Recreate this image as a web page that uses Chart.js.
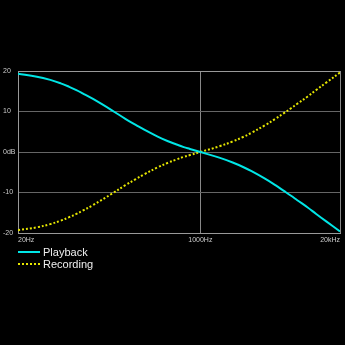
<!DOCTYPE html>
<html>
<head>
<meta charset="utf-8">
<script src="https://cdn.jsdelivr.net/npm/chart.js@4"></script>
<style>
html,body{margin:0;padding:0;background:#000;}
#wrap{width:345px;height:345px;}
</style>
</head>
<body>
<div id="wrap"><canvas id="c" width="345" height="345"></canvas></div>
<script>
const freqs = [20, 30, 40, 50, 60, 70, 80, 100, 150, 200, 250, 300, 400, 500, 600, 700, 800, 1000, 1500, 2000, 2500, 3000, 4000, 5000, 6000, 7000, 8000, 10000, 12000, 15000, 20000];
const playback = [19.3, 18.6, 17.8, 16.95, 16.1, 15.3, 14.5, 13.1, 10.3, 8.2, 6.7, 5.5, 3.8, 2.65, 1.85, 1.2, 0.75, 0, -1.4, -2.6, -3.7, -4.75, -6.6, -8.2, -9.6, -10.8, -11.9, -13.7, -15.3, -17.2, -19.6];
const recording = [-19.3, -18.6, -17.8, -16.95, -16.1, -15.3, -14.5, -13.1, -10.3, -8.2, -6.7, -5.5, -3.8, -2.65, -1.85, -1.2, -0.75, 0, 1.4, 2.6, 3.7, 4.75, 6.6, 8.2, 9.6, 10.8, 11.9, 13.7, 15.3, 17.2, 19.6];
const xTickValues = [20, 1000, 20000];
const xTickLabels = ["20Hz", "1000Hz", "20kHz"];
const yTickValues = [-20, -10, 0, 10, 20];
const yTickLabels = ["-20", "-10", "0dB", "10", "20"];
const seriesNames = ["Playback", "Recording"];

const legendPlugin = {
  id: 'customLegend',
  afterDraw(chart) {
    const ctx = chart.ctx;
    const a = chart.chartArea;
    ctx.save();
    chart.data.datasets.forEach((ds, i) => {
      const y = a.bottom + 19 + i * 12;
      ctx.beginPath();
      ctx.strokeStyle = ds.borderColor;
      ctx.lineWidth = ds.borderWidth;
      ctx.setLineDash(ds.borderDash || []);
      ctx.moveTo(a.left, y);
      ctx.lineTo(a.left + 22, y);
      ctx.stroke();
      ctx.setLineDash([]);
      ctx.fillStyle = '#eeeeee';
      ctx.font = '11px "Liberation Sans"';
      ctx.textBaseline = 'middle';
      ctx.textAlign = 'left';
      ctx.fillText(ds.label, a.left + 25, y + 0.5);
    });
    ctx.restore();
  }
};

new Chart(document.getElementById('c'), {
  type: 'line',
  data: {
    labels: freqs,
    datasets: [
      {
        label: seriesNames[0],
        data: freqs.map((f, i) => ({x: f, y: playback[i]})),
        borderColor: '#00e6e6',
        borderWidth: 2,
        pointRadius: 0,
        tension: 0.4,
        fill: false
      },
      {
        label: seriesNames[1],
        data: freqs.map((f, i) => ({x: f, y: recording[i]})),
        borderColor: '#e6e600',
        borderWidth: 2,
        borderDash: [2, 2],
        pointRadius: 0,
        tension: 0.4,
        fill: false
      }
    ]
  },
  options: {
    responsive: false,
    animation: false,
    devicePixelRatio: 1,
    layout: {padding: {top: 71, right: 5, bottom: 98, left: 3}},
    plugins: {legend: {display: false}, tooltip: {enabled: false}},
    scales: {
      x: {
        type: 'logarithmic',
        min: 20,
        max: 20000,
        afterBuildTicks: (axis) => { axis.ticks = xTickValues.map(v => ({value: v})); },
        afterFit: (axis) => { axis.height = 14; },
        ticks: {
          autoSkip: false,
          maxRotation: 0,
          align: 'inner',
          padding: 3,
          color: '#cccccc',
          font: {family: 'Liberation Sans', size: 7},
          callback: (v) => { const i = xTickValues.indexOf(v); return i >= 0 ? xTickLabels[i] : ''; }
        },
        grid: {color: '#888888', lineWidth: 1, drawTicks: false},
        border: {color: '#999999'}
      },
      y: {
        min: -20,
        max: 20,
        afterBuildTicks: (axis) => { axis.ticks = yTickValues.map(v => ({value: v})); },
        afterFit: (axis) => { axis.width = 15; },
        ticks: {
          crossAlign: 'far',
          padding: 2,
          color: '#cccccc',
          font: {family: 'Liberation Sans', size: 7},
          callback: (v) => { const i = yTickValues.indexOf(v); return i >= 0 ? yTickLabels[i] : ''; }
        },
        grid: {
          color: (c) => (c.tick && (c.tick.value === 20)) ? '#999999' : '#666666',
          lineWidth: 1,
          drawTicks: false
        },
        border: {color: '#999999'}
      }
    }
  },
  plugins: [legendPlugin]
});
</script>
</body>
</html>
